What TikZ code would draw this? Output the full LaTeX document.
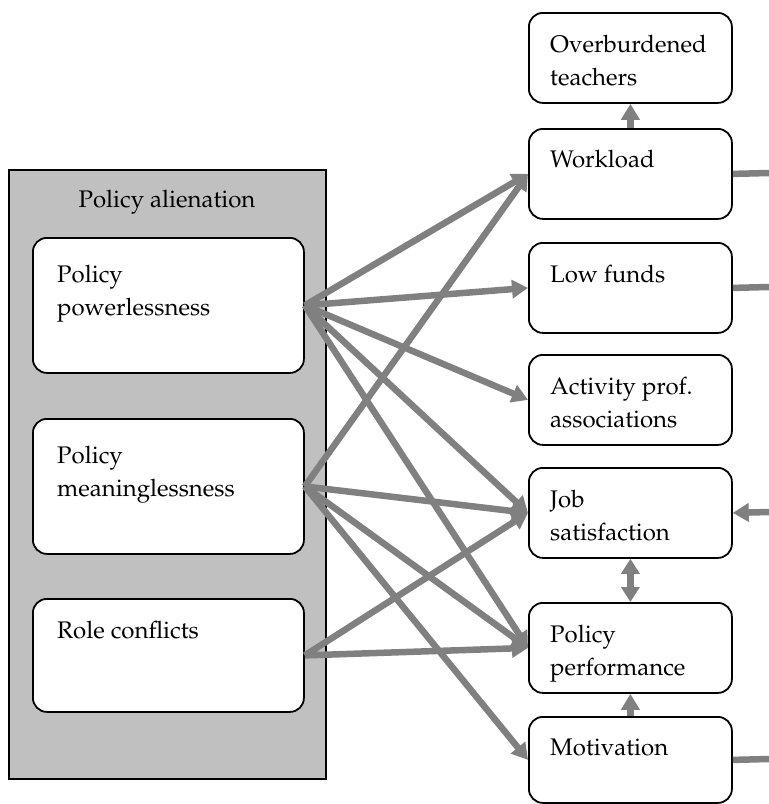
\documentclass[tikz,border=0pt]{standalone}
\usepackage[T1]{fontenc}
\usepackage{mathpazo}
\usetikzlibrary{arrows.meta,calc}
\definecolor{arrowgray}{HTML}{808080}
\definecolor{panelgray}{HTML}{C0C0C0}
\tikzset{
 box/.style={draw=black, line width=1.8pt, rounded corners=14pt, fill=white, anchor=north west, inner sep=0pt},
 panel/.style={draw=black, line width=1.8pt, fill=panelgray, anchor=north west, inner sep=0pt},
 lbl/.style={anchor=base west, inner sep=0pt, font=\fontsize{24}{33.5}\selectfont, align=left},
 conn/.style={draw=arrowgray, line width=6.5pt, -{Triangle[length=16pt,width=18pt]}},
 dconn/.style={draw=arrowgray, line width=6.5pt, {Triangle[length=15pt,width=18pt]}-{Triangle[length=15pt,width=18pt]}},
 stub/.style={draw=arrowgray, line width=6.5pt},
}
\begin{document}
\begin{tikzpicture}[x=1pt,y=-1pt]
\useasboundingbox (0,0) rectangle (769,804);
% left panel
\node[panel, minimum width=317pt, minimum height=609pt] (panel) at (8,169) {};
\node[lbl, anchor=base] (paltitle) at (167,207) {Policy alienation};
\node[box, minimum width=271pt, minimum height=135pt] (pw) at (32,237) {};
\node[box, minimum width=271pt, minimum height=135pt] (mn) at (32,418) {};
\node[box, minimum width=271pt, minimum height=113pt] (rc) at (32,598) {};
% multi-line labels are placed at the baseline of their last line
\node[lbl] (pwl) at (57,315.5) {Policy\\powerlessness};
\node[lbl] (mnl) at (57,496.5) {Policy\\meaninglessness};
\node[lbl] (rcl) at (57,638) {Role conflicts};
% right boxes
\node[box, minimum width=203pt, minimum height=90pt] (ob) at (528,12) {};
\node[box, minimum width=203pt, minimum height=90pt] (wl) at (528,128) {};
\node[box, minimum width=203pt, minimum height=90pt] (lf) at (528,242) {};
\node[box, minimum width=203pt, minimum height=90pt] (ap) at (528,354) {};
\node[box, minimum width=203pt, minimum height=90pt] (js) at (528,467) {};
\node[box, minimum width=203pt, minimum height=90pt] (pp) at (528,602) {};
\node[box, minimum width=203pt, minimum height=86pt] (mo) at (528,716) {};
\node[lbl] (obl) at (550,85.5) {Overburdened\\teachers};
\node[lbl] (wll) at (550,167) {Workload};
\node[lbl] (lfl) at (550,282) {Low funds};
\node[lbl] (apl) at (550,427.5) {Activity prof.\\associations};
\node[lbl] (jsl) at (550,540.5) {Job\\satisfaction};
\node[lbl] (ppl) at (550,675.5) {Policy\\performance};
\node[lbl] (mol) at (550,755) {Motivation};
% coordinates at right edge
\coordinate (wlR) at (769,173);
\coordinate (lfR) at (769,287);
\coordinate (jsR) at (769,512);
\coordinate (moR) at (769,759);
% connectors
\draw[conn] (pw.east) -- (wl.west);
\draw[conn] (pw.east) -- (lf.west);
\draw[conn] (pw.east) -- (ap.west);
\draw[conn] (pw.east) -- (js.west);
\draw[conn] (pw.east) -- (pp.west);
\draw[conn] (mn.east) -- (wl.west);
\draw[conn] (mn.east) -- (js.west);
\draw[conn] (mn.east) -- (pp.west);
\draw[conn] (mn.east) -- (mo.west);
\draw[conn] (rc.east) -- (js.west);
\draw[conn] (rc.east) -- (pp.west);
\draw[conn] (wl.north) -- (ob.south);
\draw[dconn] (js.south) -- (pp.north);
\draw[conn] (mo.north) -- (pp.south);
\draw[stub] (wl.east) -- (wlR);
\draw[stub] (lf.east) -- (lfR);
\draw[conn] (jsR) -- (js.east);
\draw[stub] (mo.east) -- (moR);
\end{tikzpicture}
\end{document}
